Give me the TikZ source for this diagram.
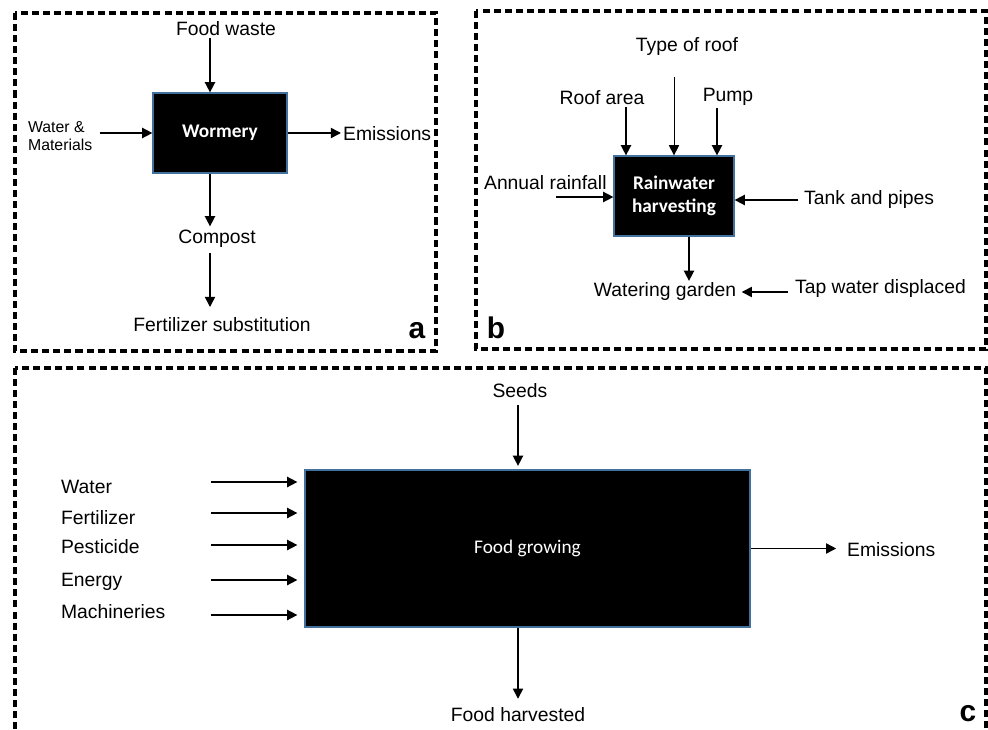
\documentclass[tikz,border=0pt]{standalone}
\usepackage{fontspec}
\setmainfont{Liberation Sans}
\newfontfamily\calibri{Carlito}
\usetikzlibrary{arrows.meta,positioning,calc}
\definecolor{boxedge}{RGB}{65,113,156}

\begin{document}
\begin{tikzpicture}[x=0.02cm,y=-0.02cm,
  lab/.style={inner sep=1pt,font=\fontsize{11}{13}\selectfont},
  procbox/.style={draw=boxedge,line width=0.7pt,fill=black,text=white,align=center,
    inner sep=0pt,font=\calibri\fontsize{11}{13}\selectfont},
  flow/.style={line width=0.85pt,-{Triangle[length=5.8pt,width=5.8pt]}},
  panel/.style={line width=1.9pt,dash pattern=on 4pt off 2.3pt},
  tag/.style={inner sep=0pt,font=\bfseries\fontsize{17}{17}\selectfont}]
  \clip (0,0) rectangle (988,730);

  % frames of the three panels
  \draw[panel] (15,13) rectangle (436,351);
  \draw[panel] (476,11) rectangle (986,349);
  \draw[panel] (15,368) rectangle (986,760);

  % (a) wormery
  \node[procbox,minimum width=2.68cm,minimum height=1.6cm] (worm) at (220,133) {\bfseries Wormery};
  \node[lab] (fwaste) at (226,29) {Food waste};
  \node[lab,font=\fontsize{9}{10.5}\selectfont,align=left,anchor=west] (wmat) at (26,136) {Water \&\\Materials};
  \node[lab,anchor=west] (emis1) at (341,134) {Emissions};
  \node[lab] (compost) at (217,239) {Compost};
  \node[lab] (fsub) at (222,325) {Fertilizer substitution};
  \node[tag] (tag-a) at (417,331) {a};
  \draw[flow] (fwaste.south -| 210,0) -- (worm.north -| 210,0);
  \draw[flow,shorten <=3pt] (wmat.east |- worm.west) -- (worm.west);
  \draw[flow] (worm.east) -- (worm.east -| emis1.west);
  \draw[flow,shorten >=1pt] (worm.south -| 210,0) -- (compost.north -| 210,0);
  \draw[flow,shorten <=2pt,shorten >=5pt] (compost.south -| 210,0) -- (fsub.north -| 210,0);

  % (b) rainwater harvesting
  \node[procbox,minimum width=2.4cm,minimum height=1.6cm] (rain) at (674,196) {\bfseries Rainwater\\\bfseries harvesting};
  \node[lab] (rtype) at (687,47) {Type of roof};
  \node[lab] (rarea) at (602,98) {Roof area};
  \node[lab] (pump) at (728,97) {Pump};
  \node[lab,anchor=west] (rainfall) at (482,183) {Annual rainfall};
  \node[lab,anchor=west] (tank) at (802,200) {Tank and pipes};
  \node[lab] (garden) at (665,292) {Watering garden};
  \node[lab,anchor=west] (tap) at (793,289) {Tap water displaced};
  \node[tag] (tag-b) at (496,328) {b};
  \draw[flow] (rarea.south -| 626,0) -- (rain.north -| 626,0);
  \draw[flow,line width=0.5pt,shorten <=11pt] (rtype.south -| rain.north) -- (rain.north);
  \draw[flow] (pump.south -| 717,0) -- (rain.north -| 717,0);
  \coordinate (rf-in) at (556,197);
  \draw[flow] (rf-in) -- (rf-in -| rain.west);
  \draw[flow,shorten <=2pt] (tank.west) -- (tank.west -| rain.east);
  \draw[flow] (rain.south -| 689,0) -- (garden.north -| 689,0);
  \draw[flow,shorten <=3pt,shorten >=2pt] (tap.west |- garden.east) -- (garden.east);

  % (c) food growing
  \node[procbox,minimum width=8.9cm,minimum height=3.14cm] (grow) at (527.5,548.5) {Food growing};
  \node[lab] (seeds) at (520,391) {Seeds};
  \node[lab,anchor=west] (emis2) at (845,550) {Emissions};
  \node[lab] (harv) at (518,715) {Food harvested};
  \node[tag] (tag-c) at (968,714) {c};
  \foreach \nm/\txt/\ty/\ay in {water/Water/493/482, fert/Fertilizer/524/513,
                                pest/Pesticide/553/545, energy/Energy/586/580,
                                mach/Machineries/618/615} {
    \node[lab,anchor=base west] (\nm) at (59,\ty) {\txt};
    \coordinate (\nm-in) at (211,\ay);
    \draw[flow,shorten >=4pt] (\nm-in) -- (\nm-in -| grow.west);
  }
  \draw[flow,shorten <=3pt,shorten >=2pt] (seeds.south -| 518,0) -- (grow.north -| 518,0);
  \draw[flow,shorten >=5pt] (grow.east) -- (grow.east -| emis2.west);
  \draw[flow,shorten >=4pt] (grow.south -| 518,0) -- (harv.north -| 518,0);
\end{tikzpicture}
\end{document}
